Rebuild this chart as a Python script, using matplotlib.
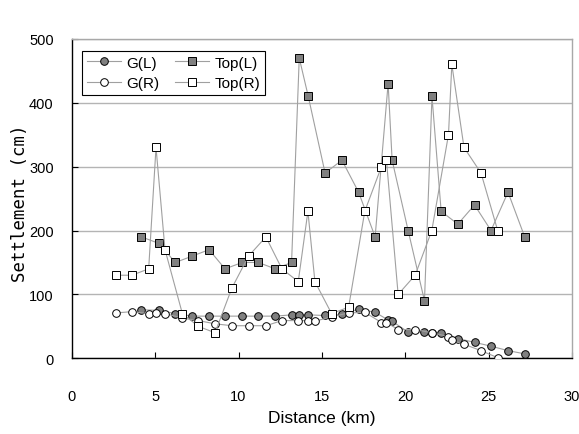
import numpy as np
import matplotlib
matplotlib.use('Agg')
import matplotlib.pyplot as plt

plt.rcParams['font.family'] = ['Liberation Sans', 'DejaVu Sans']

# left side (ground / top)
x_left = [4.17, 5.21, 6.21, 7.23, 8.23, 9.19, 10.22, 11.18, 12.2, 13.18, 13.64, 14.18,
          15.19, 16.2, 17.2, 18.19, 18.97, 19.21, 20.17, 21.15, 21.6, 22.15, 23.15,
          24.15, 25.14, 26.16, 27.16]
g_left = [76, 75, 70, 66, 66, 66, 66, 66, 66, 68, 68, 68,
          67, 69, 77, 72, 60, 58, 41, 41, 40, 39, 31,
          25, 19, 12, 7]
top_left = [190, 180, 150, 160, 170, 140, 150, 150, 140, 150, 470, 410,
            290, 310, 260, 190, 430, 310, 200, 90, 410, 230, 210,
            240, 200, 260, 190]

# right side
x_right = [2.64, 3.6, 4.61, 5.05, 5.59, 6.63, 7.59, 8.59, 9.6, 10.6, 11.64, 12.6,
           13.58, 14.16, 14.58, 15.58, 16.6, 17.57, 18.57, 18.87, 19.57, 20.59,
           21.59, 22.59, 22.79, 23.52, 24.54, 25.54]
g_right = [71, 73, 70, 71, 70, 63, 59, 54, 51, 51, 51, 59,
           59, 59, 58, 65, 71, 72, 56, 56, 45, 45,
           40, 34, 28, 22, 12, 1]
top_right = [130, 130, 140, 330, 170, 70, 50, 40, 110, 160, 190, 140,
             120, 230, 120, 70, 80, 230, 300, 310, 100, 130,
             200, 350, 460, 330, 290, 200]

fig = plt.figure(figsize=(5.79, 4.35), dpi=100)
ax = fig.add_axes([0.124, 0.174, 0.864, 0.7345])

line_c = '#a0a0a0'
ax.plot(x_left, g_left, '-o', color=line_c, lw=0.8, ms=5.5, mfc='#808080', mec='black',
        mew=0.7, label='G(L)', zorder=3)
ax.plot(x_right, g_right, '-o', color=line_c, lw=0.8, ms=5.5, mfc='white', mec='black',
        mew=0.7, label='G(R)', zorder=4)
ax.plot(x_left, top_left, '-s', color=line_c, lw=0.8, ms=5.8, mfc='#808080', mec='black',
        mew=0.7, label='Top(L)', zorder=5)
ax.plot(x_right, top_right, '-s', color=line_c, lw=0.8, ms=5.8, mfc='white', mec='black',
        mew=0.7, label='Top(R)', zorder=6)

ax.set_xlim(0, 30)
ax.set_ylim(0, 500)
ax.set_xticks(np.arange(0, 31, 5))
ax.set_yticks(np.arange(0, 501, 100))
ax.yaxis.grid(True, color='#b4b4b4', lw=1.0)
ax.set_axisbelow(True)

ax.spines['left'].set_color('black')
ax.spines['bottom'].set_color('black')
ax.spines['top'].set_color('#a8a8a8')
ax.spines['right'].set_color('#a8a8a8')
for s in ax.spines.values():
    s.set_linewidth(1.0)

ax.tick_params(direction='in', length=4, width=0.8, labelsize=10.5, colors='black')
ax.tick_params(axis='x', pad=22)
ax.tick_params(axis='y', pad=13)

ax.set_xlabel('Distance (km)', fontsize=12.5)
ax.set_ylabel('Settlement (cm)', fontsize=12.5, family='DejaVu Sans Mono')
ax.xaxis.set_label_coords(0.5, -0.163)
ax.yaxis.set_label_coords(-0.086, 0.49)

leg = ax.legend(loc='upper left', ncol=2, bbox_to_anchor=(0.006, 0.985), fontsize=11,
                frameon=True, fancybox=False, edgecolor='black', framealpha=1,
                handlelength=2.2, handletextpad=0.4, columnspacing=1.0,
                borderpad=0.3, labelspacing=0.4)
leg.get_frame().set_linewidth(0.8)

fig.savefig('out.png', dpi=100)
